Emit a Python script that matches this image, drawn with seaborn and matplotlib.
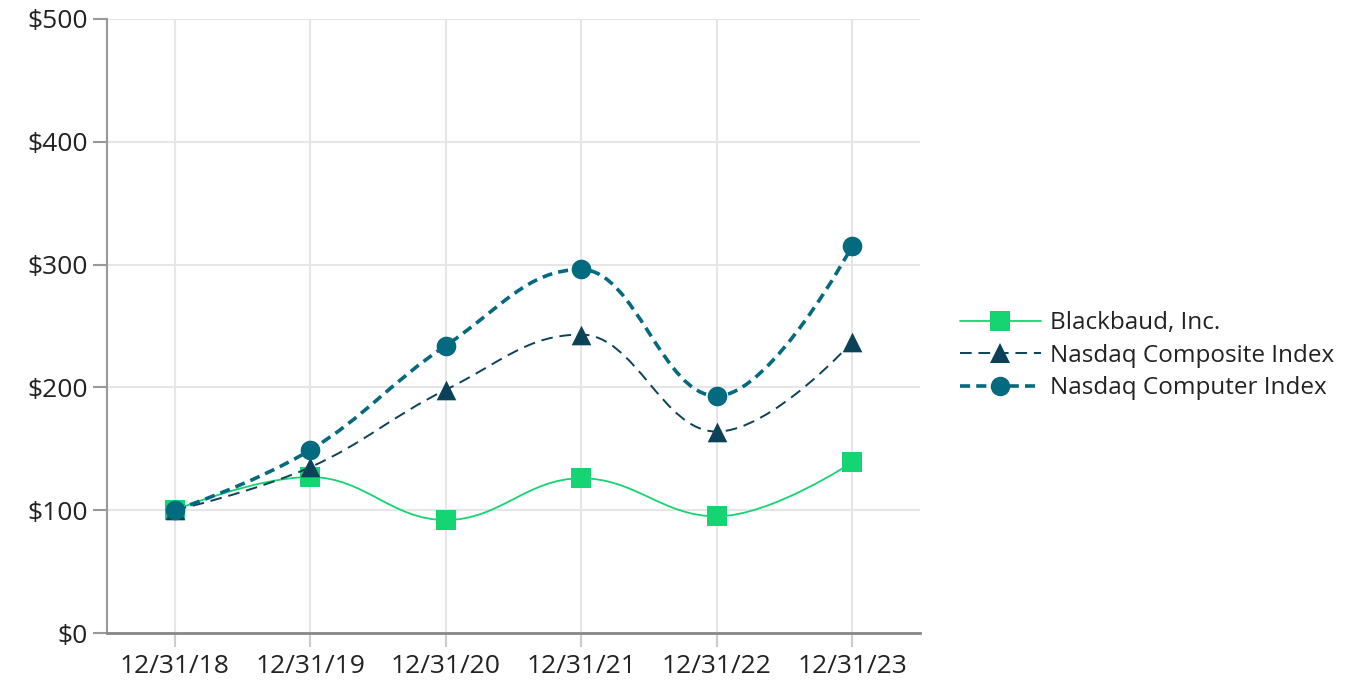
import numpy as np
import matplotlib
matplotlib.use("Agg")
import matplotlib.pyplot as plt
import seaborn as sns
from matplotlib.path import Path
from matplotlib.patches import PathPatch
from matplotlib.lines import Line2D

# Data (indexed to $100)
dates = ["12/31/18", "12/31/19", "12/31/20", "12/31/21", "12/31/22", "12/31/23"]
blackbaud = [100, 127, 92, 126, 95, 139]
nasdaq_composite = [100, 135, 198, 243, 164, 237]
nasdaq_computer = [100, 149, 234, 296, 193, 315]

series_names = ["Blackbaud, Inc.", "Nasdaq Composite Index", "Nasdaq Computer Index"]
colors = ["#14d571", "#0b4257", "#036a80"]


def spline_path(xs, ys, smoothing=1.5):
    # smooth curve through the points (Highcharts-style spline)
    n = len(xs)
    right_ctrl = [None] * n
    left_ctrl = [None] * n
    denom = smoothing + 1
    for i in range(n):
        px, py = xs[i], ys[i]
        if 0 < i < n - 1:
            lx, ly = xs[i - 1], ys[i - 1]
            nx, ny = xs[i + 1], ys[i + 1]
            lcx = (smoothing * px + lx) / denom
            lcy = (smoothing * py + ly) / denom
            rcx = (smoothing * px + nx) / denom
            rcy = (smoothing * py + ny) / denom
            corr = 0
            if rcx != lcx:
                corr = (rcy - lcy) * (rcx - px) / (rcx - lcx) + py - rcy
            lcy += corr
            rcy += corr
            if lcy > ly and lcy > py:
                lcy = max(ly, py)
                rcy = 2 * py - lcy
            elif lcy < ly and lcy < py:
                lcy = min(ly, py)
                rcy = 2 * py - lcy
            if rcy > ny and rcy > py:
                rcy = max(ny, py)
                lcy = 2 * py - rcy
            elif rcy < ny and rcy < py:
                rcy = min(ny, py)
                lcy = 2 * py - rcy
            left_ctrl[i] = (lcx, lcy)
            right_ctrl[i] = (rcx, rcy)
    verts = [(xs[0], ys[0])]
    codes = [Path.MOVETO]
    for i in range(1, n):
        c1 = right_ctrl[i - 1] or (xs[i - 1], ys[i - 1])
        c2 = left_ctrl[i] or (xs[i], ys[i])
        verts += [c1, c2, (xs[i], ys[i])]
        codes += [Path.CURVE4] * 3
    return Path(verts, codes)


sns.set_style("white")
plt.rcParams["font.family"] = ["Open Sans", "DejaVu Sans"]

fig = plt.figure(figsize=(13.68, 7), dpi=100)
ax = fig.add_axes([0.0782, 0.0957, 0.5943, 0.8772])

x = np.arange(len(dates))
all_series = [blackbaud, nasdaq_composite, nasdaq_computer]
markers = ["s", "^", "o"]
widths = [1.3, 1.4, 2.6]
dashes = [None, (0, (6, 3.5)), (0, (2.8, 1.7))]
msizes = [190, 200, 200]

for i, vals in enumerate(all_series):
    style = "-" if dashes[i] is None else dashes[i]
    patch = PathPatch(spline_path(list(x), vals), fill=False, edgecolor=colors[i],
                      linewidth=widths[i], linestyle=style, zorder=3 + 2 * i,
                      capstyle="butt")
    ax.add_patch(patch)
    sns.scatterplot(x=x, y=vals, marker=markers[i], color=colors[i], s=msizes[i],
                    linewidth=0, ax=ax, zorder=4 + 2 * i, legend=False)

ax.set_xlim(-0.5, 5.5)
ax.set_ylim(0, 500)
ax.set_xticks(x)
ax.set_xticklabels(dates)
ax.set_yticks([0, 100, 200, 300, 400, 500])
ax.set_yticklabels(["$0", "$100", "$200", "$300", "$400", "$500"])
ax.tick_params(axis="both", labelsize=19, labelcolor="#222222", length=10, width=1.5,
               bottom=True, left=True)
ax.tick_params(axis="x", color="#cccccc", pad=5)
ax.tick_params(axis="y", color="#999999", pad=4)
ax.grid(True, color="#e6e6e6", linewidth=1.5)
ax.set_axisbelow(True)

for side in ["top", "right"]:
    ax.spines[side].set_visible(False)
ax.spines["left"].set_color("#999999")
ax.spines["left"].set_linewidth(1.5)
ax.spines["bottom"].set_color("#888888")
ax.spines["bottom"].set_linewidth(2)
ax.set_xlabel("")
ax.set_ylabel("")

handles = []
for i in range(3):
    ls = "-" if dashes[i] is None else dashes[i]
    handles.append(Line2D([], [], color=colors[i], linestyle=ls, linewidth=widths[i],
                          marker=markers[i], markersize=14, markeredgewidth=0))
fig.legend(handles, series_names, loc="center left", bbox_to_anchor=(0.686, 0.492),
           frameon=False, fontsize=17.5, handlelength=3.3, handletextpad=0.4,
           labelspacing=0.35, labelcolor="#222222")

fig.savefig("out.png", dpi=100)
